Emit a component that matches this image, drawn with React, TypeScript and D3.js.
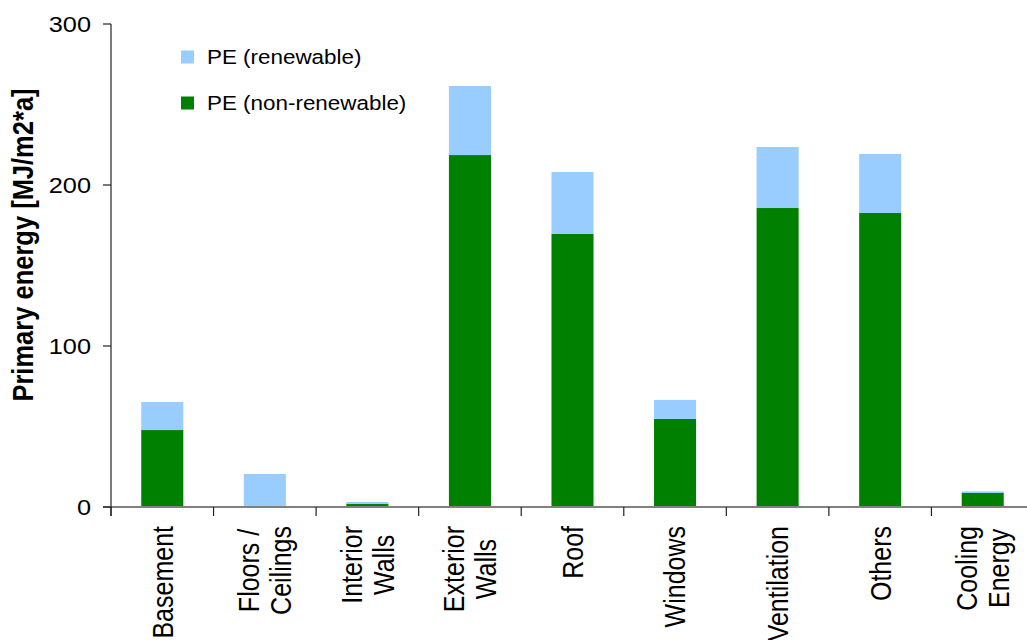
import React from "react";
import * as d3 from "d3";

// Building components and their primary energy demand [MJ/m2*a]
const categories: string[][] = [
  ["Basement"],
  ["Floors /", "Ceilings"],
  ["Interior", "Walls"],
  ["Exterior", "Walls"],
  ["Roof"],
  ["Windows"],
  ["Ventilation"],
  ["Others"],
  ["Cooling", "Energy"],
];
const nonRenewable = [47.8, 0, 2.0, 218.6, 169.6, 54.7, 185.7, 182.6, 8.7];
const renewable = [17.4, 20.5, 1.1, 42.9, 38.5, 11.8, 37.9, 36.7, 1.0];
const yTicks = [0, 100, 200, 300];
const seriesNames = ["PE (non-renewable)", "PE (renewable)"];
const seriesColors = ["#008000", "#99CCFF"];
const legendOrder = [1, 0];

const W = 1027;
const H = 640;
const FONT = "'Liberation Sans', Arial, Helvetica, sans-serif";
const SX = 1.15; // horizontal text stretch

function measure(text: string, size: number, weight = "normal"): number {
  const c = document.createElement("canvas").getContext("2d");
  if (!c) return text.length * size * 0.5;
  c.font = `${weight} ${size}px ${FONT}`;
  return c.measureText(text).width;
}

export default function App() {
  const keys = categories.map((c) => c.join(" "));
  const x = d3.scaleBand<string>().domain(keys).range([111, 1034]).paddingInner(0).paddingOuter(0);
  const y = d3.scaleLinear().domain([0, 300]).range([507, 24]);
  const barW = x.bandwidth() * 0.41;

  const rows = keys.map((k, i) => ({ key: k, nr: nonRenewable[i], r: renewable[i] }));
  const stacked = d3.stack<any>().keys(["nr", "r"])(rows);

  const labelSize = 25;
  const lineH = labelSize * 1.12;
  const labelTop = 526;

  return (
    <svg width={W} height={H} style={{ position: "absolute", left: 0, top: 0, background: "#fff" }}>
      {/* bars */}
      {stacked.map((s, si) => (
        <g key={si} fill={seriesColors[si]}>
          {s.map((d, i) => {
            const h = y(d[0]) - y(d[1]);
            if (h <= 0) return null;
            return (
              <rect
                key={i}
                x={(x(keys[i]) as number) + (x.bandwidth() - barW) / 2}
                y={y(d[1])}
                width={barW}
                height={h}
              />
            );
          })}
        </g>
      ))}

      {/* x axis */}
      <line x1={103} x2={W} y1={y(0)} y2={y(0)} stroke="#808080" strokeWidth={2} />
      {keys.map((k) => (
        <line key={k} x1={x(k) as number} x2={x(k) as number} y1={y(0)} y2={y(0) + 9} stroke="#222" strokeWidth={1.2} />
      ))}

      {/* y axis */}
      <line x1={111} x2={111} y1={y(300)} y2={y(0) + 9} stroke="#222" strokeWidth={1.2} />
      {yTicks.map((t) => (
        <g key={t}>
          <line x1={103} x2={111} y1={y(t)} y2={y(t)} stroke="#222" strokeWidth={1.2} />
          <text
            transform={`translate(91,${y(t)}) scale(${SX},1)`}
            textAnchor="end"
            dy="0.36em"
            fontFamily={FONT}
            fontSize={22}
            fill="#000"
          >
            {t}
          </text>
        </g>
      ))}

      {/* y axis title */}
      <text
        transform={`translate(22.4,245) scale(${SX},1) rotate(-90)`}
        textAnchor="middle"
        dy="0.36em"
        fontFamily={FONT}
        fontWeight="bold"
        fontSize={25.5}
        fill="#000"
      >
        Primary energy [MJ/m2*a]
      </text>

      {/* category labels */}
      {categories.map((lines, i) => {
        const cx = (x(keys[i]) as number) + x.bandwidth() / 2;
        const maxLen = Math.max(...lines.map((l) => measure(l, labelSize)));
        const cy = labelTop + maxLen / 2;
        return (
          <text
            key={i}
            transform={`translate(${cx},${cy}) scale(${SX},1) rotate(-90)`}
            textAnchor="middle"
            fontFamily={FONT}
            fontSize={labelSize}
            fill="#000"
          >
            {lines.map((l, j) => (
              <tspan key={j} x={0} y={(j - (lines.length - 1) / 2) * lineH + labelSize * 0.36}>
                {l}
              </tspan>
            ))}
          </text>
        );
      })}

      {/* legend */}
      {legendOrder.map((si, j) => {
        const cy = 57 + j * 46;
        return (
          <g key={si}>
            <rect x={181} y={cy - 6.5} width={13} height={13} fill={seriesColors[si]} />
            <text
              transform={`translate(207,${cy}) scale(${SX},1)`}
              dy="0.36em"
              fontFamily={FONT}
              fontSize={19.5}
              fill="#000"
            >
              {seriesNames[si]}
            </text>
          </g>
        );
      })}
    </svg>
  );
}
